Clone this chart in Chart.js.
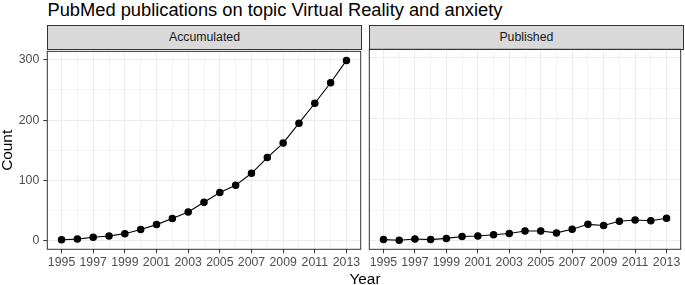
<!DOCTYPE html>
<html>
<head>
<meta charset="utf-8">
<script src="https://cdn.jsdelivr.net/npm/chart.js@4.4.1/dist/chart.umd.min.js"></script>
<style>
  body { margin: 0; background: #fff; font-family: "Liberation Sans", Arial, sans-serif; }
  #wrap { position: relative; width: 685px; height: 285px; overflow: hidden; }
  #wrap canvas { position: absolute; }
  .title { position: absolute; left: 47.5px; top: 1px; font-size: 18.3px; line-height: 1; color: #000; white-space: nowrap; }
  .strip { position: absolute; top: 25px; height: 24.5px; background: #d9d9d9; border: 1px solid #333; box-sizing: border-box;
           font-size: 12.3px; color: #1a1a1a; display: flex; align-items: center; justify-content: center; }
  .xtitle { position: absolute; left: 0; width: 730px; top: 271px; font-size: 15.4px; line-height: 1; text-align: center; color: #000; }
</style>
</head>
<body>
<div id="wrap">
  <div class="title">PubMed publications on topic Virtual Reality and anxiety</div>
  <div class="strip" style="left:46.8px;width:315.4px">Accumulated</div>
  <div class="strip" style="left:368.8px;width:315.2px">Published</div>
  <canvas id="accChart" width="365" height="245" style="left:0;top:40px"></canvas>
  <canvas id="pubChart" width="320" height="245" style="left:365px;top:40px"></canvas>
  <div class="xtitle">Year</div>
</div>
<script>
const years = [1995, 1996, 1997, 1998, 1999, 2000, 2001, 2002, 2003, 2004,
               2005, 2006, 2007, 2008, 2009, 2010, 2011, 2012, 2013];
const accumulated = [2, 3, 6, 8, 12, 19, 27, 37, 48, 64, 80, 92, 112, 138, 162, 195, 228, 262, 299];
const published = [2, 1, 3, 2, 4, 7, 8, 10, 12, 16, 16, 13, 19, 27, 25, 32, 34, 33, 37];
const yTicks = [0, 100, 200, 300];
const xTicks = [1995, 1997, 1999, 2001, 2003, 2005, 2007, 2009, 2011, 2013];

const font = { family: '"Liberation Sans", Arial, sans-serif', size: 12.3 };

// panel border like theme_bw
const panelBorder = {
    id: 'panelBorder',
    afterDatasetsDraw(chart) {
        const a = chart.chartArea;
        const ctx = chart.ctx;
        ctx.save();
        ctx.strokeStyle = '#333333';
        ctx.lineWidth = 1;
        ctx.strokeRect(a.left, a.top, a.right - a.left, a.bottom - a.top);
        ctx.restore();
    }
};

const gridWidth = (v, majors) => majors.includes(v) ? 1.1 : 0.55;

function makePanel(id, values, showY, pad) {
    new Chart(document.getElementById(id), {
        type: 'line',
        data: {
            datasets: [{
                data: years.map((y, i) => ({ x: y, y: values[i] })),
                borderColor: '#000',
                backgroundColor: '#000',
                borderWidth: 1.1,
                pointRadius: 3.2,
                pointHoverRadius: 3.2,
                tension: 0
            }]
        },
        options: {
            responsive: false,
            animation: false,
            events: [],
            layout: { padding: pad },
            plugins: { legend: { display: false }, tooltip: { enabled: false } },
            scales: {
                x: {
                    type: 'linear',
                    min: 1994.1,
                    max: 2013.9,
                    afterFit: s => { s.height = 35.7; },
                    border: { display: false },
                    grid: {
                        color: '#ebebeb',
                        lineWidth: c => gridWidth(c.tick.value, xTicks),
                        tickLength: 4,
                        tickColor: c => xTicks.includes(c.tick.value) ? '#333333' : 'rgba(0,0,0,0)',
                        tickWidth: 1
                    },
                    ticks: {
                        stepSize: 1,
                        includeBounds: false,
                        autoSkip: false,
                        maxRotation: 0,
                        minRotation: 0,
                        padding: 2,
                        color: '#4d4d4d',
                        font: font,
                        callback: v => xTicks.includes(v) ? String(v) : ''
                    }
                },
                y: {
                    min: -13.9,
                    max: 313.9,
                    afterFit: s => { s.width = showY ? 47.3 : 0; },
                    border: { display: false },
                    title: {
                        display: showY,
                        text: 'Count',
                        color: '#000',
                        font: { family: font.family, size: 15.4 },
                        padding: { top: -1.7, bottom: 0 }
                    },
                    grid: {
                        color: '#ebebeb',
                        lineWidth: c => gridWidth(c.tick.value, yTicks),
                        drawTicks: showY,
                        tickLength: 4,
                        tickColor: c => yTicks.includes(c.tick.value) ? '#333333' : 'rgba(0,0,0,0)',
                        tickWidth: 1
                    },
                    ticks: {
                        display: showY,
                        stepSize: 50,
                        includeBounds: false,
                        padding: 4,
                        color: '#4d4d4d',
                        font: font,
                        callback: v => yTicks.includes(v) ? String(v) : ''
                    }
                }
            }
        },
        plugins: [panelBorder]
    });
}

makePanel('accChart', accumulated, true, { top: 9.3, right: 3.3, left: 0, bottom: 0 });
makePanel('pubChart', published, false, { top: 9.3, right: 1.5, left: 4.3, bottom: 0 });
</script>
</body>
</html>
